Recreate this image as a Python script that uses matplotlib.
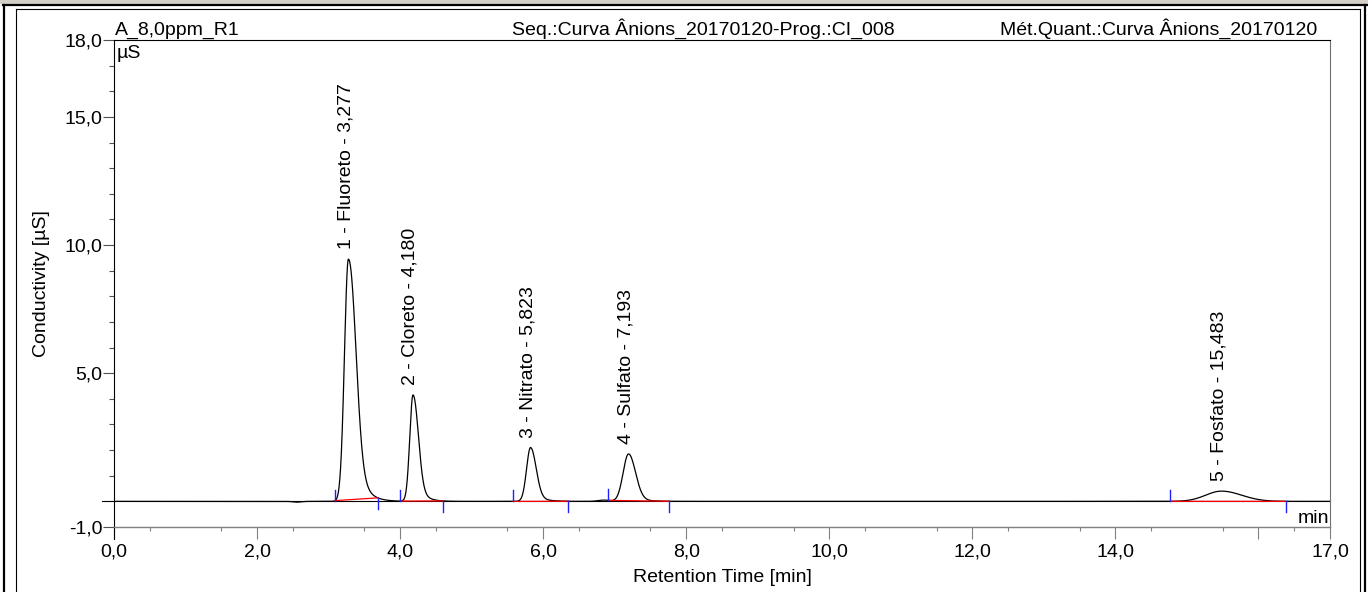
import numpy as np
import matplotlib
matplotlib.use('Agg')
import matplotlib.pyplot as plt
from matplotlib.lines import Line2D
from matplotlib.patches import Rectangle
from matplotlib.ticker import FixedLocator

plt.rcParams['font.family'] = ['Liberation Sans', 'DejaVu Sans']
FS = 14

# peak table
names = ['Fluoreto', 'Cloreto', 'Nitrato', 'Sulfato', 'Fosfato']
ret_times = [3.277, 4.180, 5.823, 7.193, 15.483]
heights = [9.45, 4.15, 2.10, 1.85, 0.40]
sigma_left = [0.055, 0.045, 0.055, 0.075, 0.22]
sigma_right = [0.095, 0.070, 0.075, 0.095, 0.28]
tail_amp = [0.45, 0.30, 0.20, 0.12, 0.0]
tail_tau = [0.12, 0.10, 0.12, 0.15, 0.30]

# integration window (blue marks)
peak_start = [3.09, 4.00, 5.58, 6.91, 14.77]
peak_end = [3.69, 4.60, 6.35, 7.76, 16.38]

# small baseline disturbances
bump_times = [2.56, 6.85]
bump_heights = [-0.03, 0.05]
bump_widths = [0.06, 0.08]

y_major = [-1, 5, 10, 15, 18]
x_major = [0, 2, 4, 6, 8, 10, 12, 14, 16, 17]


def peak(t, rt, h, sl, sr, a, tau):
    dt = t - rt
    core = np.where(dt < 0, np.exp(-dt**2 / (2 * sl**2)), np.exp(-dt**2 / (2 * sr**2)))
    tail = np.where(dt > 0, a * np.exp(-np.clip(dt, 0, None) / tau) * (1 - np.exp(-dt**2 / (2 * sr**2))), 0)
    return h * (core + tail)


t = np.linspace(0, 17, 8501)
signal = np.zeros_like(t)
for i in range(len(ret_times)):
    signal += peak(t, ret_times[i], heights[i], sigma_left[i], sigma_right[i], tail_amp[i], tail_tau[i])
for i in range(len(bump_times)):
    signal += bump_heights[i] * np.exp(-(t - bump_times[i])**2 / (2 * bump_widths[i]**2))

W, H = 1368, 592
fig = plt.figure(figsize=(W / 100, H / 100), dpi=100)

# window frame
fig.add_artist(Rectangle((0, 1 - 4 / H), 1, 4 / H, transform=fig.transFigure, color='#d4d0c8', lw=0))
def fline(x0, y0, x1, y1, lw):
    fig.add_artist(Line2D([x0 / W, x1 / W], [1 - y0 / H, 1 - y1 / H], transform=fig.transFigure, color='black', lw=lw))
fline(3, 5, 1367, 5, 1.6)
fline(4, 5, 4, H, 1.6)
fline(1365, 5, 1365, H, 1.6)
fline(15.5, 9, 1360, 9, 0.8)
fline(15.5, 9, 15.5, H, 0.8)
fline(1360, 9, 1360, H, 0.8)

ax = fig.add_axes([114 / W, 1 - 527 / H, (1330 - 114) / W, (527 - 40) / H])
ax.set_xlim(0, 17)
ax.set_ylim(-1, 18)

ax.plot([-0.17, 17], [0, 0], color='black', lw=0.8, clip_on=False)
ax.plot([0, 0], [-1.45, -1], color='black', lw=0.8, clip_on=False)
ax.plot(t, signal, color='black', lw=0.9)

mark = 0.43
for i in range(len(ret_times)):
    ys = np.interp(peak_start[i], t, signal)
    ye = np.interp(peak_end[i], t, signal)
    ax.plot([peak_start[i], peak_end[i]], [ys, ye], color='red', lw=0.9)
    ax.plot([peak_start[i], peak_start[i]], [ys, ys + mark], color='#2020ff', lw=1.0)
    ax.plot([peak_end[i], peak_end[i]], [ye, ye - mark], color='#2020ff', lw=1.0)
    label = '%d - %s - %s' % (i + 1, names[i], ('%.3f' % ret_times[i]).replace('.', ','))
    ax.annotate(label, (ret_times[i], heights[i]), xytext=(-2, 7), textcoords='offset points',
                rotation=90, ha='center', va='bottom', fontsize=FS)

for s in ['left', 'top']:
    ax.spines[s].set_color('black')
    ax.spines[s].set_linewidth(0.8)
ax.spines['right'].set_color('#707070')
ax.spines['right'].set_linewidth(0.8)
ax.spines['bottom'].set_color('#808080')
ax.spines['bottom'].set_linewidth(1.0)

ax.yaxis.set_major_locator(FixedLocator(y_major))
ax.yaxis.set_minor_locator(FixedLocator([v for v in range(-1, 19) if v not in y_major + [0]]))
ax.set_yticklabels([('%.1f' % v).replace('.', ',') for v in y_major])
ax.xaxis.set_major_locator(FixedLocator(x_major))
ax.xaxis.set_minor_locator(FixedLocator(np.arange(0.5, 17, 1.0)))
ax.set_xticklabels([('%.1f' % v).replace('.', ',') if v != 16 else '' for v in x_major])

ax.tick_params(axis='y', which='major', length=8, width=0.8, color='#505050', pad=0.5, labelsize=FS)
ax.tick_params(axis='y', which='minor', length=3.6, width=0.8, color='#505050')
ax.tick_params(axis='x', which='major', length=8.6, width=0.8, color='#808080', pad=3.5, labelsize=FS)
ax.tick_params(axis='x', which='minor', length=3, width=0.8, color='#808080')

ax.set_xlabel('Retention Time [min]', fontsize=FS)
ax.set_ylabel('Conductivity [µS]', fontsize=FS)
ax.xaxis.set_label_coords(0.5, (527 - 578) / 487)
ax.xaxis.label.set_va('center')
ax.yaxis.set_label_coords((42 - 114) / 1216, 0.5)
ax.yaxis.label.set_va('center')

ty = 1 + 5.5 / 487
ax.text(0.001, ty, 'A_8,0ppm_R1', transform=ax.transAxes, ha='left', va='baseline', fontsize=FS)
ax.text((512 - 114) / 1216, ty, 'Seq.:Curva Ânions_20170120-Prog.:CI_008', transform=ax.transAxes,
        ha='left', va='baseline', fontsize=FS)
ax.text((1317 - 114) / 1216, ty, 'Mét.Quant.:Curva Ânions_20170120', transform=ax.transAxes,
        ha='right', va='baseline', fontsize=FS)
ax.text(0.002, 1 - 5 / 487, 'µS', transform=ax.transAxes, ha='left', va='top', fontsize=FS)
ax.text(0.999, 4 / 487, 'min', transform=ax.transAxes, ha='right', va='baseline', fontsize=FS)

plt.savefig('out.png', dpi=100)
